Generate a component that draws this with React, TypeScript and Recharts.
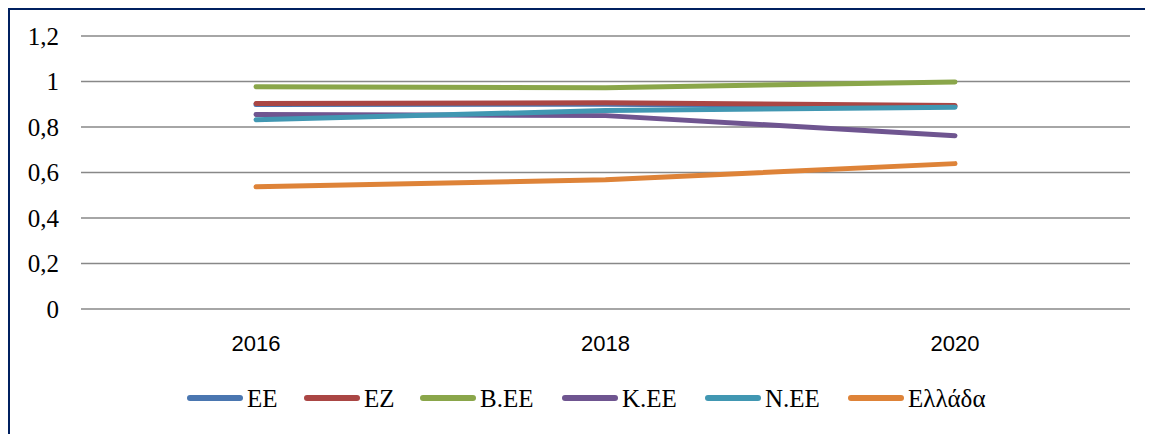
import { LineChart, Line, XAxis, YAxis, CartesianGrid, Legend } from 'recharts';

const YEARS = ['2016', '2018', '2020'];
const EE = [0.899, 0.9, 0.891];
const EZ = [0.903, 0.907, 0.894];
const B_EE = [0.977, 0.973, 0.998];
const K_EE = [0.855, 0.85, 0.762];
const N_EE = [0.832, 0.872, 0.887];
const GREECE = [0.537, 0.568, 0.639];
const Y_TICKS = [0, 0.2, 0.4, 0.6, 0.8, 1, 1.2];

const SERIES = [
  { key: 'ee', name: 'EE', color: '#4a76b0', values: EE },
  { key: 'ez', name: 'EZ', color: '#aa4644', values: EZ },
  { key: 'bee', name: 'B.EE', color: '#8aa64a', values: B_EE },
  { key: 'kee', name: 'K.EE', color: '#6f5590', values: K_EE },
  { key: 'nee', name: 'N.EE', color: '#4197b2', values: N_EE },
  { key: 'gr', name: 'Ελλάδα', color: '#de8338', values: GREECE },
];

// legend slot widths, so each swatch starts where the original one does
const LEGEND_SLOTS = [117, 116, 142, 143, 143, 150];
const LEGEND_START = 180;

const data = YEARS.map((year, i) => {
  const row: Record<string, string | number> = { year };
  SERIES.forEach((s) => {
    row[s.key] = s.values[i];
  });
  return row;
});

const SERIF = 'Liberation Serif';
const SANS = 'Liberation Sans';

function LegendRow() {
  let x = LEGEND_START;
  return (
    <svg width={1142} height={30} style={{ display: 'block' }}>
      {SERIES.map((s, i) => {
        const x0 = x;
        x += LEGEND_SLOTS[i];
        return (
          <g key={s.key}>
            <line x1={x0} y1={15} x2={x0 + 50} y2={15} stroke={s.color} strokeWidth={6} strokeLinecap="round" />
            <text x={x0 + 57} y={15} dy="0.34em" fontFamily={SERIF} fontSize={25} fill="#000">
              {s.name}
            </text>
          </g>
        );
      })}
    </svg>
  );
}

export default function App() {
  return (
    <div
      style={{
        width: 1145,
        height: 427,
        borderTop: '3px solid #002060',
        borderLeft: '3px solid #002060',
        boxSizing: 'border-box',
        marginTop: -1,
        marginLeft: -1,
      }}
    >
      <LineChart width={1142} height={424} data={data} margin={{ top: 26, right: 22, bottom: 21, left: 0 }}>
        <CartesianGrid vertical={false} stroke="#888888" strokeWidth={1.5} />
        <XAxis
          dataKey="year"
          axisLine={false}
          tickLine={false}
          tickSize={0}
          tickMargin={26}
          height={74}
          padding={{ left: 175, right: 175 }}
          tick={{ fontFamily: SANS, fontSize: 22, fill: '#000' }}
        />
        <YAxis
          domain={[0, 1.2]}
          ticks={Y_TICKS}
          axisLine={false}
          tickLine={false}
          tickSize={0}
          tickMargin={22}
          width={71}
          tickFormatter={(v: number) => String(v).replace('.', ',')}
          tick={{ fontFamily: SERIF, fontSize: 25, fill: '#000' }}
        />
        <Legend
          verticalAlign="bottom"
          height={30}
          wrapperStyle={{ left: 0, width: 1142 }}
          content={() => <LegendRow />}
        />
        {SERIES.map((s) => (
          <Line
            key={s.key}
            type="linear"
            dataKey={s.key}
            name={s.name}
            stroke={s.color}
            strokeWidth={5}
            strokeLinecap="round"
            dot={false}
            activeDot={false}
            isAnimationActive={false}
          />
        ))}
      </LineChart>
    </div>
  );
}
